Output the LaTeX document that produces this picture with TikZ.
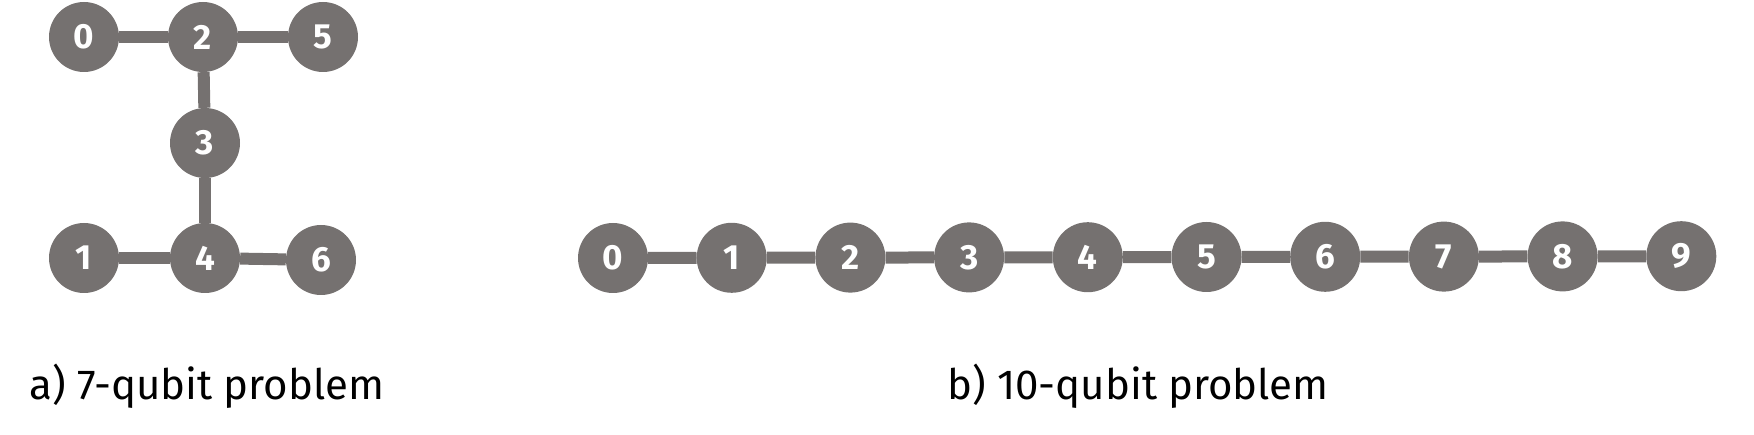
\documentclass[tikz,border=0pt]{standalone}
\usepackage{fontspec}
\setmainfont{Fira Sans}
\usetikzlibrary{positioning}
\definecolor{qgray}{RGB}{117,113,112}
\tikzset{
  qubit/.style={circle,fill=qgray,minimum size=70pt,inner sep=0pt,text=white,
    font=\fontsize{35}{35}\selectfont\bfseries},
  link/.style={draw=qgray,line width=12pt},
  caption/.style={anchor=base west,font=\fontsize{42}{42}\selectfont}
}
\begin{document}
\begin{tikzpicture}[x=1pt,y=-1pt]
        \useasboundingbox (0,0) rectangle (1754,435);
        % 7-qubit coupling map
        \node[qubit] (a0) at (84,37) {0};
        \node[qubit] (a2) at (203,37) {2};
        \node[qubit] (a5) at (323,37) {5};
        \node[qubit] (a3) at (205,143) {3};
        \node[qubit] (a1) at (84,258) {1};
        \node[qubit] (a4) at (205,258) {4};
        \node[qubit] (a6) at (321,260) {6};
        \draw[link] (a0) -- (a2);
        \draw[link] (a2) -- (a5);
        \draw[link] (a2) -- (a3);
        \draw[link] (a3) -- (a4);
        \draw[link] (a1) -- (a4);
        \draw[link] (a4) -- (a6);
        % 10-qubit chain
        \foreach \i in {0,...,9}
        \node[qubit] (b\i) at (613+118.7*\i,258-0.2*\i) {\i};
        \foreach \i [evaluate=\i as \j using int(\i+1)] in {0,...,8}
        \draw[link] (b\i) -- (b\j);
        % captions
        \node[caption] (capa) at (26,400) {a) 7-qubit problem};
        \node[caption] (capb) at (944,400) {b) 10-qubit problem};
\end{tikzpicture}
\end{document}
